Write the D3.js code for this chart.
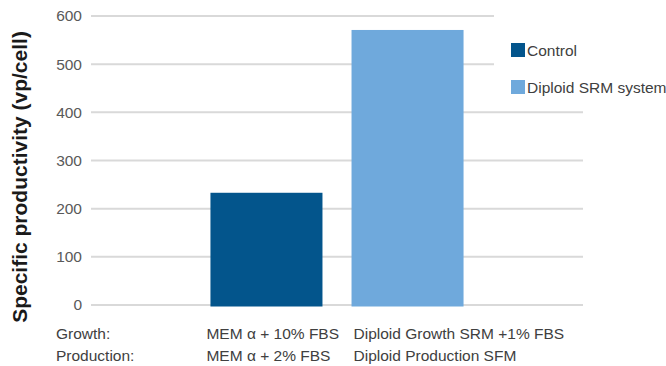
<!DOCTYPE html>
<html>
<head>
<meta charset="utf-8">
<script src="https://cdn.jsdelivr.net/npm/d3@7"></script>
<style>
  html, body { margin: 0; padding: 0; background: #fff; }
  svg { display: block; font-family: "Liberation Sans", Arial, Helvetica, sans-serif; }
</style>
</head>
<body>
<svg id="chart" width="666" height="366"></svg>
<script>
// Specific productivity per cell for each media system
const seriesNames = ["Control", "Diploid SRM system"];
const seriesValues = [233, 571];
const seriesColors = ["#03558c", "#6fa9dc"];
const growthLabels = ["MEM α + 10% FBS", "Diploid Growth SRM +1% FBS"];
const productionLabels = ["MEM α + 2% FBS", "Diploid Production SFM"];
const rowLabels = ["Growth:", "Production:"];
const yTicks = [0, 100, 200, 300, 400, 500, 600];
const yTitle = "Specific productivity (vp/cell)";

const svg = d3.select("#chart");
const plot = { left: 91, right: 583, top: 16, bottom: 305 };

const y = d3.scaleLinear().domain([0, 600]).range([plot.bottom, plot.top]);

// single category holding both series side by side
const x0 = d3.scaleBand().domain(["all"]).range([plot.left, plot.right])
  .paddingInner(0).paddingOuter(0.472);
const x1 = d3.scaleBand().domain(seriesNames).range([0, x0.bandwidth()])
  .paddingInner(0.206).paddingOuter(0);

// legend area; gridlines stop short of it
const legend = { x: 511, y: 43, rowGap: 37, size: 14, top: 0, bottom: 100 };

// gridlines
const grid = svg.append("g");
grid.selectAll("line").data(yTicks).join("line")
  .attr("x1", plot.left)
  .attr("x2", d => (y(d) > legend.top && y(d) < legend.bottom) ? legend.x - 17 : plot.right)
  .attr("y1", d => y(d)).attr("y2", d => y(d))
  .attr("stroke", "#d9d9d9").attr("stroke-width", 2);

// y axis labels
const yAxis = d3.axisLeft(y).tickValues(yTicks).tickSize(0).tickPadding(9);
const ya = svg.append("g").attr("transform", `translate(${plot.left},0)`).call(yAxis);
ya.select(".domain").remove();
ya.selectAll("text").attr("font-size", 15.5).attr("fill", "#595959")
  .attr("font-family", "'Liberation Sans', Arial, sans-serif");

// bars
svg.append("g").selectAll("rect").data(seriesNames).join("rect")
  .attr("x", d => x0("all") + x1(d))
  .attr("width", x1.bandwidth())
  .attr("y", (d, i) => y(seriesValues[i]))
  .attr("height", (d, i) => y(0) - y(seriesValues[i]) + 1.5)
  .attr("fill", (d, i) => seriesColors[i]);

// y axis title
svg.append("text")
  .attr("transform", `translate(26.5,177) rotate(-90)`)
  .attr("text-anchor", "middle")
  .attr("font-size", 21).attr("font-weight", "bold").attr("fill", "#1a1a1a")
  .text(yTitle);

// media labels under the bars
const labelColor = "#404040";
const rowY = [339, 361];
svg.append("g").selectAll("text").data(rowLabels).join("text")
  .attr("x", 56).attr("y", (d, i) => rowY[i])
  .attr("font-size", 15.5).attr("fill", labelColor).text(d => d);

const offsets = [-4, 2];
[growthLabels, productionLabels].forEach((labels, r) => {
  svg.append("g").selectAll("text").data(seriesNames).join("text")
    .attr("x", (d, i) => x0("all") + x1(d) + offsets[i])
    .attr("y", rowY[r])
    .attr("font-size", 15.5).attr("fill", labelColor)
    .text((d, i) => labels[i]);
});

// legend
const lg = svg.append("g");
seriesNames.forEach((name, i) => {
  lg.append("rect")
    .attr("x", legend.x).attr("y", legend.y + i * legend.rowGap)
    .attr("width", legend.size).attr("height", legend.size)
    .attr("fill", seriesColors[i]);
  lg.append("text")
    .attr("x", legend.x + legend.size + 2).attr("y", legend.y + i * legend.rowGap + 13)
    .attr("font-size", 15.5).attr("fill", labelColor).text(name);
});
</script>
</body>
</html>
